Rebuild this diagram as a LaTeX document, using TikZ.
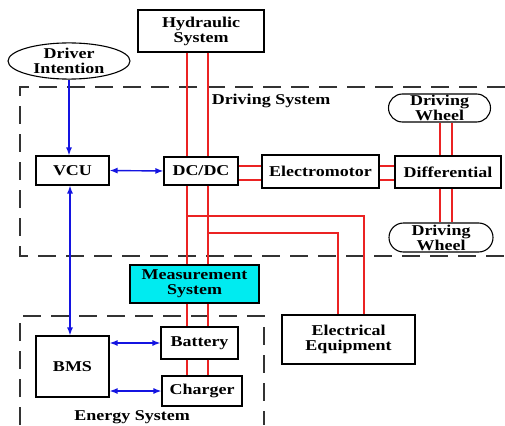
\documentclass[tikz,border=0pt]{standalone}
\usepackage{fontspec}
\setmainfont{Liberation Serif}[FakeStretch=1.2]
\usetikzlibrary{arrows.meta,calc,positioning,shapes.geometric,shapes.misc}
\definecolor{bcol}{RGB}{20,20,225}
\definecolor{rcol}{RGB}{235,35,35}
\definecolor{mcol}{RGB}{0,235,240}
\tikzset{
  box/.style={rectangle,draw,line width=1.1pt,fill=white,inner sep=0pt,align=center},
  wheel/.style={rounded rectangle,draw,line width=1.1pt,fill=white,inner sep=0pt,align=center},
  bline/.style={line width=1.4pt,bcol,{Latex[length=8pt,width=6pt]}-{Latex[length=8pt,width=6pt]}},
  bto/.style={line width=1.4pt,bcol,-{Latex[length=8pt,width=6pt]}},
  rline/.style={line width=1.5pt,rcol},
  sysbox/.style={line width=1.3pt,black!80,dash pattern=on 18pt off 10pt},
  every node/.style={font=\fontsize{15}{15}\selectfont\bfseries}
}

\begin{document}
\begin{tikzpicture}[x=1pt,y=-1pt]
\useasboundingbox (0,0) rectangle (505,425);

% dashed system frames
\draw[sysbox] (505,87) -- (20,87) -- (20,256) -- (505,256);
\draw[sysbox] (20,425) -- (20,316) -- (264,316) -- (264,425);
\node at (271,101) {Driving System};
\node at (132,417) {Energy System};

% blocks
\node[box,minimum width=126pt,minimum height=42pt] (hyd) at (201,31) {Hydraulic\\System};
\node[ellipse,draw,line width=1.1pt,fill=white,inner sep=0pt,align=center,
      minimum width=122pt,minimum height=36pt] (drv) at (69,61) {Driver\\Intention};
\node[box,minimum width=73pt,minimum height=29pt] (vcu) at (72.5,170.5) {VCU};
\node[box,minimum width=74pt,minimum height=28pt] (dcdc) at (201,171) {DC/DC};
\node[box,minimum width=117pt,minimum height=33pt] (emotor) at (320.5,171.5) {Electromotor};
\node[box,minimum width=106pt,minimum height=32pt] (diff) at (448,172) {Differential};
\node[wheel,minimum width=102pt,minimum height=28pt] (wheelT) at (439.5,108) {Driving\\Wheel};
\node[wheel,minimum width=104pt,minimum height=29pt] (wheelB) at (441,237.5) {Driving\\Wheel};
\node[box,fill=mcol,minimum width=129pt,minimum height=38pt] (meas) at (194.5,284) {Measurement\\System};
\node[box,minimum width=133pt,minimum height=49pt] (eq) at (348.5,339.5) {Electrical\\Equipment};
\node[box,minimum width=77pt,minimum height=32pt] (bat) at (199.5,343) {Battery};
\node[box,minimum width=80pt,minimum height=30pt] (chg) at (202,391) {Charger};
\node[box,minimum width=73pt,minimum height=61pt] (bms) at (72.5,366.5) {BMS};

% power bus
\coordinate (busL) at (187,0);
\coordinate (busR) at (208,0);
\foreach \b in {busL,busR}{
  \draw[rline] (hyd.south -| \b) -- (dcdc.north -| \b);
  \draw[rline] (dcdc.south -| \b) -- (meas.north -| \b);
  \draw[rline] (meas.south -| \b) -- (bat.north -| \b);
  \draw[rline] (bat.south -| \b) -- (chg.north -| \b);
}
\draw[rline] (busL |- 0,216) -- (364,216) -- (eq.north -| 364,0);
\draw[rline] (busR |- 0,233) -- (338,233) -- (eq.north -| 338,0);

% drive train
\foreach \y in {166,180}{
  \draw[rline] (dcdc.east |- 0,\y) -- (emotor.west |- 0,\y);
  \draw[rline] (emotor.east |- 0,\y) -- (diff.west |- 0,\y);
}
\foreach \x in {440,452}{
  \draw[rline] (wheelT.south -| \x,0) -- (diff.north -| \x,0);
  \draw[rline] (diff.south -| \x,0) -- (wheelB.north -| \x,0);
}

% signals
\draw[bto] (drv.south) -- (drv.south |- vcu.north);
\draw[bline] (vcu.east) -- (dcdc.west);
\draw[bline] (vcu.south -| 70,0) -- (bms.north -| 70,0);
\draw[bline] (bms.east |- bat) -- (bat.west);
\draw[bline] (bms.east |- chg) -- (chg.west);
\end{tikzpicture}
\end{document}
